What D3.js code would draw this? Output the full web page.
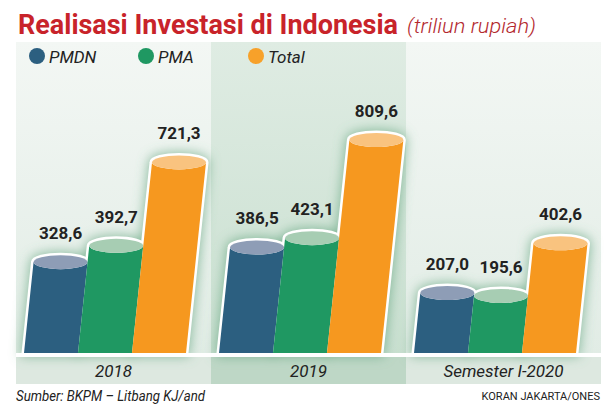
<!DOCTYPE html>
<html><head><meta charset="utf-8">
<script src="https://cdn.jsdelivr.net/npm/d3@7"></script>
<style>body{margin:0;background:#fff}svg{display:block}</style>
</head><body><svg id="c" width="614" height="417"></svg>
<script>
// ---- data ----
const categories = ["2018", "2019", "Semester I-2020"];
const seriesNames = ["PMDN", "PMA", "Total"];
const pmdnValues = [328.6, 386.5, 207.0];
const pmaValues = [392.7, 423.1, 195.6];
const totalValues = [721.3, 809.6, 402.6];
const titleText = "Realisasi Investasi di Indonesia";
const unitText = "(triliun rupiah)";
const sourceText = "Sumber: BKPM \u2013 Litbang KJ/and";
const creditText = "KORAN JAKARTA/ONES";

// ---- styles ----
const bodyColors = {PMDN: "#2c5f80", PMA: "#1f9862", Total: "#f6981f"};
const topColors = {PMDN: "#8e9db6", PMA: "#a7cdb3", Total: "#f9c37f"};
const legendColors = {PMDN: "#2c5f80", PMA: "#1f9862", Total: "#f7a12a"};
const panelTop = ["#f3f7f4", "#dfece3", "#f3f7f4"];
const panelBottom = ["#e1ece5", "#c9dfd0", "#e1ece5"];
const bandColors = ["#dde8e0", "#bed7c6", "#dde8e0"];

const seriesData = {PMDN: pmdnValues, PMA: pmaValues, Total: totalValues};
const fmt = v => d3.format(".1f")(v).replace(".", ",");

const svg = d3.select("#c");
const defs = svg.append("defs");
defs.append("filter").attr("id", "glow").attr("x", "-40%").attr("y", "-40%")
  .attr("width", "180%").attr("height", "180%")
  .append("feGaussianBlur").attr("stdDeviation", 6);
categories.forEach((c, i) => {
  const g = defs.append("linearGradient").attr("id", "pg" + i)
    .attr("x1", 0).attr("y1", 0).attr("x2", 0).attr("y2", 1);
  g.append("stop").attr("offset", 0).attr("stop-color", panelTop[i]);
  g.append("stop").attr("offset", 1).attr("stop-color", panelBottom[i]);
});

// ---- scales ----
const x = d3.scaleBand().domain(categories).range([16, 601]).paddingInner(0);
const xs = d3.scaleBand().domain(seriesNames).range([8, 170]);
const y = d3.scaleLinear().domain([0, 850]).range([345.6, 129.7]);
const floorY = 353, skew = 0.105, ry = 7;

// panels
svg.selectAll("rect.panel").data(categories).join("rect")
  .attr("x", d => x(d)).attr("y", 42).attr("width", x.bandwidth()).attr("height", 313)
  .attr("fill", (d, i) => `url(#pg${i})`);
svg.selectAll("rect.band").data(categories).join("rect")
  .attr("x", d => x(d)).attr("y", 357).attr("width", x.bandwidth()).attr("height", 27)
  .attr("fill", (d, i) => bandColors[i]);
svg.selectAll("text.cat").data(categories).join("text")
  .attr("x", d => x(d) + x.bandwidth() / 2).attr("y", 377)
  .attr("text-anchor", "middle").attr("font-family", "Roboto, sans-serif")
  .attr("font-style", "italic").attr("font-size", 17).attr("fill", "#222")
  .text(d => d);

// bar geometry
const bars = [];
categories.forEach((c, i) => {
  seriesNames.forEach(s => {
    const v = seriesData[s][i];
    const w = xs.bandwidth();
    const xl = x(c) + xs(s);
    const yt = y(v);
    const sh = skew * (floorY - yt);
    bars.push({c, s, v, w, xl, xr: xl + w, yt, tl: xl + sh, tr: xl + w + sh});
  });
});
const rx = d => (d.tr - d.tl) / 2;
const silhouette = d => `M${d.xl},${floorY}L${d.tl},${d.yt}A${rx(d)},${ry} 0 0 1 ${d.tr},${d.yt}L${d.xr},${floorY}Z`;
const body = d => `M${d.xl},${floorY}L${d.tl},${d.yt}A${rx(d)},${ry} 0 0 0 ${d.tr},${d.yt}L${d.xr},${floorY}Z`;

// glow
svg.append("g").attr("filter", "url(#glow)").selectAll("path").data(bars).join("path")
  .attr("d", silhouette).attr("fill", "#5f a27a".replace(" ", "")).attr("stroke", "#5fa27a")
  .attr("stroke-width", 7).attr("opacity", 0.65);
// white outline
svg.append("g").selectAll("path").data(bars).join("path")
  .attr("d", silhouette).attr("fill", "#fff").attr("stroke", "#fff")
  .attr("stroke-width", 5).attr("stroke-linejoin", "round");
// white floor gap
svg.append("rect").attr("x", 16).attr("y", floorY).attr("width", 585).attr("height", 4).attr("fill", "#fff");
// bodies
const bg = svg.append("g");
bars.forEach(d => {
  bg.append("path").attr("d", body(d)).attr("fill", bodyColors[d.s]);
  bg.append("ellipse").attr("cx", (d.tl + d.tr) / 2).attr("cy", d.yt)
    .attr("rx", rx(d)).attr("ry", ry).attr("fill", topColors[d.s]);
});
// value labels
svg.selectAll("text.val").data(bars).join("text")
  .attr("x", d => (d.tl + d.tr) / 2).attr("y", d => d.yt - 23)
  .attr("text-anchor", "middle").attr("font-family", "Roboto, sans-serif")
  .attr("font-weight", "bold").attr("font-size", 17).attr("fill", "#222")
  .text(d => fmt(d.v));

// title
svg.append("text").attr("x", 18).attr("y", 34).attr("font-family", "Roboto, sans-serif")
  .attr("font-weight", "bold").attr("font-size", 27).attr("fill", "#c8232a")
  .attr("textLength", 380).attr("lengthAdjust", "spacingAndGlyphs").text(titleText);
svg.append("text").attr("x", 407).attr("y", 33).attr("font-family", "Roboto, sans-serif")
  .attr("font-style", "italic").attr("font-weight", 300).attr("font-size", 21).attr("fill", "#b3282e")
  .attr("textLength", 129).attr("lengthAdjust", "spacingAndGlyphs").text(unitText);

// legend
const legendX = [37, 146, 256];
const lg = svg.append("g");
seriesNames.forEach((s, i) => {
  lg.append("circle").attr("cx", legendX[i]).attr("cy", 56).attr("r", 8).attr("fill", legendColors[s]);
  lg.append("text").attr("x", legendX[i] + 12).attr("y", 62.5).attr("font-family", "Roboto, sans-serif")
    .attr("font-style", "italic").attr("font-size", 17).attr("fill", "#222").text(s);
});

// footer
svg.append("text").attr("x", 16).attr("y", 401).attr("font-family", "Roboto, sans-serif")
  .attr("font-style", "italic").attr("font-size", 14).attr("fill", "#222")
  .attr("textLength", 189).attr("lengthAdjust", "spacingAndGlyphs").text(sourceText);
svg.append("text").attr("x", 600).attr("y", 400).attr("text-anchor", "end")
  .attr("font-family", "Roboto, sans-serif").attr("font-size", 11).attr("fill", "#222")
  .text(creditText);
</script></body></html>
